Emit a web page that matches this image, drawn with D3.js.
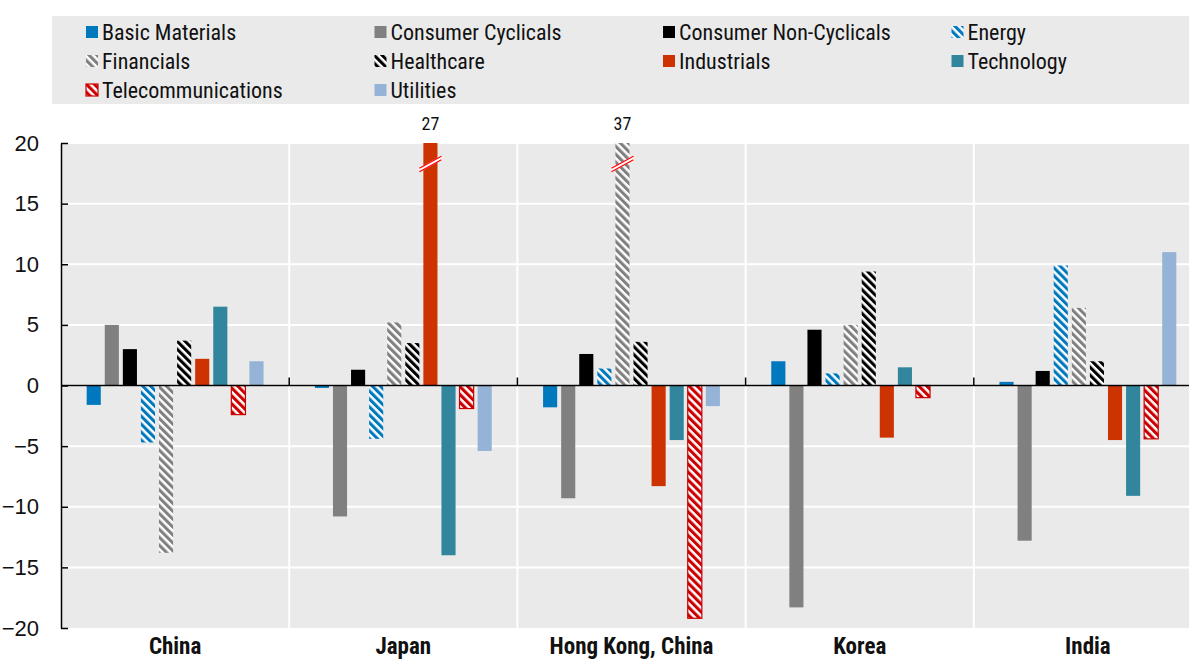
<!DOCTYPE html>
<html>
<head>
<meta charset="utf-8">
<script src="https://cdn.jsdelivr.net/npm/d3@7"></script>
<style>
  html, body { margin: 0; padding: 0; background: #fff; }
  svg { display: block; font-family: 'Liberation Sans Narrow', 'Arial Narrow', 'Roboto Condensed', sans-serif; }
</style>
</head>
<body>
<div id="chart"></div>
<script>
  // Countries along the x axis
  var countries = ['China', 'Japan', 'Hong Kong, China', 'Korea', 'India'];

  // Sector names (legend order = bar order inside each country)
  var sectors = ['Basic Materials', 'Consumer Cyclicals', 'Consumer Non-Cyclicals', 'Energy', 'Financials',
    'Healthcare', 'Industrials', 'Technology', 'Telecommunications', 'Utilities'];

  // One array per sector, values in the country order above
  var basicMaterials       = [-1.6,  -0.2,  -1.8,   2.0,   0.3];
  var consumerCyclicals    = [ 5.0, -10.8,  -9.3, -18.3, -12.8];
  var consumerNonCyclicals = [ 3.0,   1.3,   2.6,   4.6,   1.2];
  var energy               = [-4.7,  -4.4,   1.4,   1.0,   9.9];
  var financials           = [-13.8,  5.2,  37.0,   5.0,   6.4];
  var healthcare           = [ 3.7,   3.5,   3.6,   9.4,   2.0];
  var industrials          = [ 2.2,  27.0,  -8.3,  -4.3,  -4.5];
  var technology           = [ 6.5, -14.0,  -4.5,   1.5,  -9.1];
  var telecommunications   = [-2.4,  -1.9, -19.2,  -1.0,  -4.4];
  var utilities            = [ 2.0,  -5.4,  -1.7,  null,  11.0];

  var yTicks = [-20, -15, -10, -5, 0, 5, 10, 15, 20];

  var seriesValues = [basicMaterials, consumerCyclicals, consumerNonCyclicals, energy, financials,
    healthcare, industrials, technology, telecommunications, utilities];

  // colour + hatched flag per sector
  var style = {
    'Basic Materials':        { color: '#0078be', hatch: false },
    'Consumer Cyclicals':     { color: '#808080', hatch: false },
    'Consumer Non-Cyclicals': { color: '#000000', hatch: false },
    'Energy':                 { color: '#0078be', hatch: true },
    'Financials':             { color: '#808080', hatch: true },
    'Healthcare':             { color: '#000000', hatch: true },
    'Industrials':            { color: '#cc3300', hatch: false },
    'Technology':             { color: '#31859c', hatch: false },
    'Telecommunications':     { color: '#cc0000', hatch: true, border: true },
    'Utilities':              { color: '#95b3d7', hatch: false }
  };

  var W = 1189, H = 659;
  var margin = { top: 143, left: 61, bottom: 31 };
  var bandW = 228.2;
  var plotBottom = H - margin.bottom;

  var svg = d3.select('#chart').append('svg').attr('width', W).attr('height', H);
  var defs = svg.append('defs');

  function fillFor(name) {
    var s = style[name];
    if (!s.hatch) return s.color;
    return 'url(#hatch-' + sectors.indexOf(name) + ')';
  }

  sectors.forEach(function (name, i) {
    if (!style[name].hatch) return;
    var p = defs.append('pattern').attr('id', 'hatch-' + i)
      .attr('patternUnits', 'userSpaceOnUse').attr('width', 5.6).attr('height', 5.6)
      .attr('patternTransform', 'rotate(-45)');
    p.append('rect').attr('width', 5.6).attr('height', 5.6).attr('fill', '#fff');
    p.append('rect').attr('width', 3.1).attr('height', 5.6).attr('fill', style[name].color);
  });

  // Legend
  var legend = svg.append('g');
  legend.append('rect').attr('x', 52).attr('y', 16).attr('width', W - 52).attr('height', 88).attr('fill', '#eaeaea');
  sectors.forEach(function (name, i) {
    var col = i % 4, row = Math.floor(i / 4);
    var lx = 86 + col * 288.5, ly = 32 + row * 29;
    var s = style[name];
    legend.append('rect').attr('x', lx).attr('y', ly - 6).attr('width', 12).attr('height', 12)
      .attr('fill', fillFor(name))
      .attr('stroke', s.border ? s.color : 'none').attr('stroke-width', 1.2);
    legend.append('text').attr('x', lx + 16).attr('y', ly + 8)
      .attr('font-size', 22).attr('fill', '#111').text(name);
  });

  // Scales
  var x0 = d3.scaleBand().domain(countries).range([margin.left, margin.left + bandW * countries.length]);
  var x1 = d3.scaleBand().domain(sectors).range([0, bandW]).paddingInner(0.22).paddingOuter(1.42);
  var y = d3.scaleLinear().domain([-20, 20]).range([plotBottom, margin.top]).clamp(true);

  // Plot background + grid
  svg.append('rect').attr('x', margin.left).attr('y', margin.top)
    .attr('width', W - margin.left).attr('height', plotBottom - margin.top).attr('fill', '#eaeaea');

  svg.append('g').selectAll('line').data(yTicks.filter(function (t) { return t !== -20; })).enter().append('line')
    .attr('x1', margin.left).attr('x2', W)
    .attr('y1', function (d) { return y(d); }).attr('y2', function (d) { return y(d); })
    .attr('stroke', '#fff').attr('stroke-width', 2);

  svg.append('g').selectAll('line').data(countries.slice(1)).enter().append('line')
    .attr('x1', function (d) { return x0(d); }).attr('x2', function (d) { return x0(d); })
    .attr('y1', margin.top).attr('y2', plotBottom)
    .attr('stroke', '#fff').attr('stroke-width', 2);

  // Bars
  var rows = [];
  countries.forEach(function (c, ci) {
    sectors.forEach(function (s, si) {
      var v = seriesValues[si][ci];
      if (v == null) return;
      rows.push({ country: c, sector: s, value: v });
    });
  });

  var bars = svg.append('g');
  bars.selectAll('rect').data(rows).enter().append('rect')
    .attr('x', function (d) { return x0(d.country) + x1(d.sector); })
    .attr('width', x1.bandwidth())
    .attr('y', function (d) { return Math.min(y(d.value), y(0)); })
    .attr('height', function (d) { return Math.abs(y(d.value) - y(0)); })
    .attr('fill', function (d) { return fillFor(d.sector); })
    .attr('stroke', function (d) { return style[d.sector].border ? style[d.sector].color : 'none'; })
    .attr('stroke-width', 1.2);

  // Broken bars (values beyond the axis)
  var broken = rows.filter(function (d) { return d.value > 20; });
  var brk = svg.append('g');
  broken.forEach(function (d) {
    var cx = x0(d.country) + x1(d.sector) + x1.bandwidth() / 2;
    var by = y(20) + 21;
    brk.append('line').attr('x1', cx - 11).attr('y1', by + 6).attr('x2', cx + 11).attr('y2', by - 6)
      .attr('stroke', '#fff').attr('stroke-width', 4);
    [-1.7, 1.7].forEach(function (o) {
      brk.append('line').attr('x1', cx - 11).attr('y1', by + 6 + o).attr('x2', cx + 11).attr('y2', by - 6 + o)
        .attr('stroke', '#ff0000').attr('stroke-width', 1.2);
    });
    brk.append('text').attr('x', cx).attr('y', margin.top - 13).attr('text-anchor', 'middle')
      .attr('font-size', 18).attr('fill', '#111').text(d3.format('d')(d.value));
  });

  // Zero line with category ticks
  svg.append('line').attr('x1', margin.left).attr('x2', W).attr('y1', y(0)).attr('y2', y(0))
    .attr('stroke', '#000').attr('stroke-width', 1.5);
  svg.append('g').selectAll('line').data(countries.slice(1)).enter().append('line')
    .attr('x1', function (d) { return x0(d); }).attr('x2', function (d) { return x0(d); })
    .attr('y1', y(0)).attr('y2', y(0) - 8)
    .attr('stroke', '#000').attr('stroke-width', 1.5);

  // Y axis
  var yAxis = svg.append('g').attr('transform', 'translate(' + margin.left + ',0)')
    .call(d3.axisLeft(y).tickValues(yTicks).tickSize(-7).tickPadding(22).tickSizeOuter(0));
  yAxis.select('.domain').attr('stroke', '#000').attr('stroke-width', 1.5);
  yAxis.selectAll('.tick line').attr('stroke', '#000').attr('stroke-width', 1.5);
  yAxis.selectAll('.tick text').attr('font-size', 22).attr('fill', '#111')
    .attr('font-family', "'Liberation Sans Narrow', 'Arial Narrow', sans-serif");

  // Country labels
  svg.append('g').selectAll('text').data(countries).enter().append('text')
    .attr('x', function (d) { return x0(d) + x0.bandwidth() / 2; })
    .attr('y', 654)
    .attr('text-anchor', 'middle').attr('font-size', 23).attr('font-weight', 'bold').attr('fill', '#111')
    .text(function (d) { return d; });
</script>
</body>
</html>
